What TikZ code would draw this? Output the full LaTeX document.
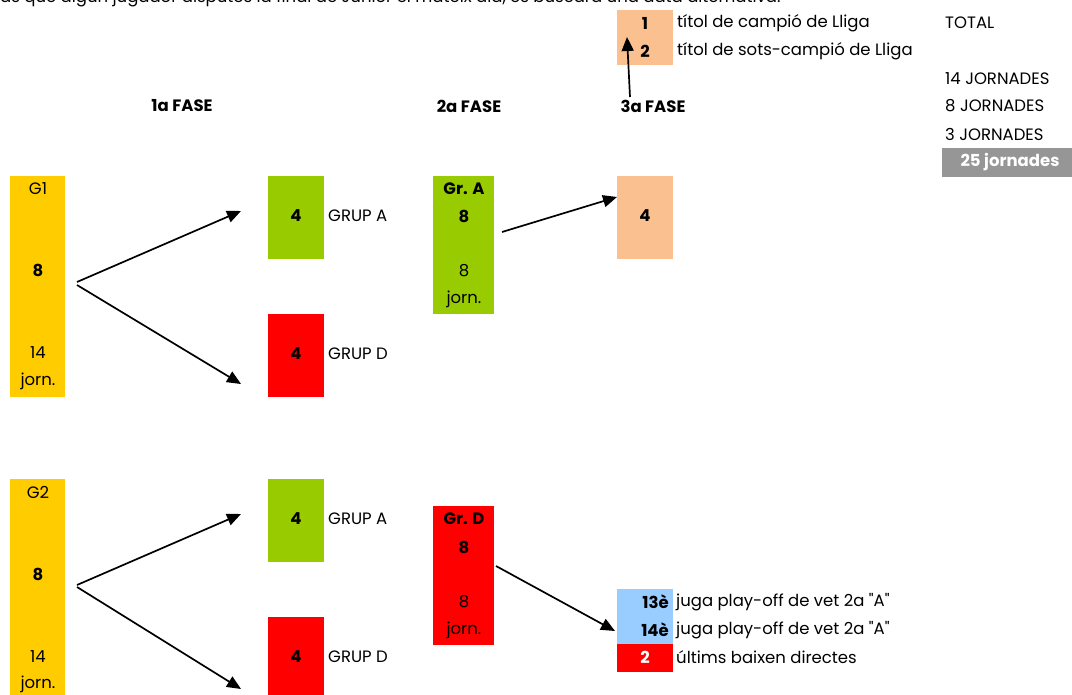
\documentclass[tikz,border=0pt]{standalone}
\usepackage{fontspec}
\setmainfont{Poppins}
\usetikzlibrary{arrows.meta}
\definecolor{cyel}{HTML}{FFCC00}
\definecolor{cgrn}{HTML}{99CC00}
\definecolor{cred}{HTML}{FF0000}
\definecolor{corg}{HTML}{FAC090}
\definecolor{cblu}{HTML}{99CCFF}
\definecolor{cgry}{HTML}{969696}
\tikzset{
  lbl/.style={inner sep=0pt, anchor=west, font=\fontsize{16.5}{18}\selectfont},
  ctr/.style={inner sep=0pt, font=\fontsize{16.5}{18}\selectfont},
  bld/.style={inner sep=0pt, font=\fontsize{16.5}{18}\selectfont\bfseries},
  arr/.style={line width=1.7pt, -{Triangle[length=14pt,width=12pt]}},
}
\begin{document}
\begin{tikzpicture}[x=1pt,y=-1pt]
\useasboundingbox (0,0) rectangle (1072,695);
% top cut text
\node[inner sep=0pt, anchor=base west, font=\fontsize{16.5}{18}\selectfont] (top) at (0,3) {as que algun jugador disputés la final de Júnior el mateix dia, es buscarà una data alternativa.};
% legend
\fill[corg] (617,10) rectangle (673,65);
\coordinate (legbox) at (627,37);
\node[bld] (l1) at (645,23) {1};
\node[bld] (l2) at (645,51) {2};
\node[lbl] (t1) at (677,23) {títol de campió de Lliga};
\node[lbl] (t2) at (677,51) {títol de sots-campió de Lliga};
\node[lbl] (tot) at (945,23) {TOTAL};
\node[lbl] (j14) at (945,79) {14 JORNADES};
\node[lbl] (j8) at (945,106) {8 JORNADES};
\node[lbl] (j3) at (945,134) {3 JORNADES};
\fill[cgry] (942,148) rectangle (1072,177);
\node[bld, text=white] (j25) at (1010,162) {25 jornades};
% headers
\node[bld] (f1) at (182,106) {1a FASE};
\node[bld] (f2) at (469,106) {2a FASE};
\node[bld] (f3) at (653,106) {3a FASE};
\coordinate (a3s) at (630,97);
\draw[arr] (a3s) -- (legbox);
% ---------- group 1
\fill[cyel] (10,176) rectangle (65,397);
\node[ctr] (g1) at (38,189) {G1};
\node[bld] (g1n) at (38,270) {8};
\node[ctr] (g1j) at (38,353) {14};
\node[ctr] (g1k) at (38,381) {jorn.};
\fill[cgrn] (268,176) rectangle (324,259);
\node[bld] (g1a) at (296,216) {4};
\node[lbl] (g1al) at (328,216) {GRUP A};
\fill[cred] (268,314) rectangle (324,397);
\node[bld] (g1d) at (296,354) {4};
\node[lbl] (g1dl) at (328,354) {GRUP D};
\coordinate (s1) at (77,282);
\coordinate (s1b) at (77,285);
\coordinate (e1a) at (241,211);
\coordinate (e1d) at (241,384);
\draw[arr] (s1) -- (e1a);
\draw[arr] (s1b) -- (e1d);
% group A 2nd phase
\fill[cgrn] (433,176) rectangle (494,314);
\node[bld] (ga) at (464,189) {Gr. A};
\node[bld] (gan) at (464,216) {8};
\node[ctr] (gaj) at (464,271) {8};
\node[ctr] (gak) at (464,299) {jorn.};
\fill[corg] (617,176) rectangle (673,259);
\node[bld] (f3a) at (645,216) {4};
\coordinate (s2) at (502,232);
\coordinate (e2) at (617,197);
\draw[arr] (s2) -- (e2);
% ---------- group 2
\fill[cyel] (10,479) rectangle (65,695);
\node[ctr] (g2) at (38,492) {G2};
\node[bld] (g2n) at (38,574) {8};
\node[ctr] (g2j) at (38,657) {14};
\node[ctr] (g2k) at (38,684) {jorn.};
\fill[cgrn] (268,479) rectangle (324,562);
\node[bld] (g2a) at (296,519) {4};
\node[lbl] (g2al) at (328,519) {GRUP A};
\fill[cred] (268,617) rectangle (324,695);
\node[bld] (g2d) at (296,657) {4};
\node[lbl] (g2dl) at (328,657) {GRUP D};
\coordinate (s3) at (77,585);
\coordinate (s3b) at (77,587);
\coordinate (e3a) at (241,514);
\coordinate (e3d) at (241,689);
\draw[arr] (s3) -- (e3a);
\draw[arr] (s3b) -- (e3d);
% group D 2nd phase
\fill[cred] (433,506) rectangle (494,645);
\node[bld] (gd) at (464,519) {Gr. D};
\node[bld] (gdn) at (464,547) {8};
\node[ctr] (gdj) at (464,602) {8};
\node[ctr] (gdk) at (464,630) {jorn.};
\fill[cblu] (617,589) rectangle (673,644);
\fill[cred] (617,644) rectangle (673,672);
\node[bld, anchor=east] (p13) at (669,602) {13è};
\node[bld, anchor=east] (p14) at (669,630) {14è};
\node[bld, text=white] (p2) at (645,657) {2};
\node[lbl] (p13l) at (676,602) {juga play-off de vet 2a \textquotedbl A\textquotedbl};
\node[lbl] (p14l) at (676,630) {juga play-off de vet 2a \textquotedbl A\textquotedbl};
\node[lbl] (p2l) at (676,657) {últims baixen directes};
\coordinate (s4) at (496,566);
\coordinate (e4) at (615,631);
\draw[arr] (s4) -- (e4);
\end{tikzpicture}
\end{document}
